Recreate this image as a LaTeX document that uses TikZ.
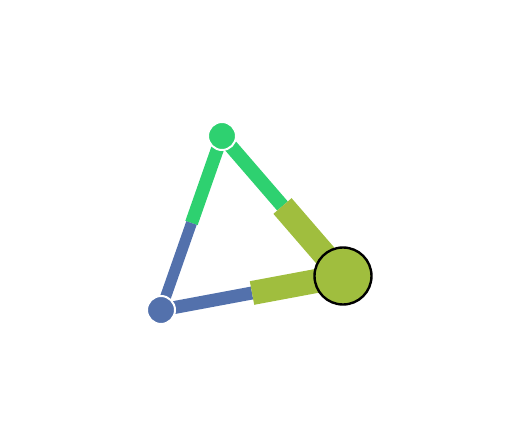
\documentclass[tikz,border=0pt]{standalone}
\usepackage{tikz}
\usetikzlibrary{calc}

\definecolor{nodegreen}{RGB}{46,209,112}
\definecolor{nodeblue}{RGB}{83,113,172}
\definecolor{nodeolive}{RGB}{160,190,62}

\begin{document}
\begin{tikzpicture}[
    x=0.75pt, y=-0.75pt,
    netnode/.style={circle, inner sep=0pt, minimum size=28*0.75pt, draw=white, line width=1.5pt},
    bignode/.style={circle, inner sep=0pt, minimum size=57*0.75pt, draw=black, line width=1.8pt, fill=nodeolive},
    halfedge/.style={line width=#1*0.75pt, line cap=butt}
  ]
    \useasboundingbox (0,0) rectangle (526,439);
    \coordinate (greenpos) at (222,136);
    \coordinate (bluepos) at (161,310);
    \coordinate (olivepos) at (343,276);
    \coordinate (gbmid) at ($(greenpos)!0.5!(bluepos)$);
    \coordinate (gomid) at ($(greenpos)!0.5!(olivepos)$);
    \coordinate (bomid) at ($(bluepos)!0.5!(olivepos)$);
    % edges, one half per end
    \draw[halfedge=13, nodegreen] (greenpos) -- (gbmid);
    \draw[halfedge=11, nodeblue] (bluepos) -- (gbmid);
    \draw[halfedge=14, nodegreen] (greenpos) -- (gomid);
    \draw[halfedge=24, nodeolive] (olivepos) -- (gomid);
    \draw[halfedge=13, nodeblue] (bluepos) -- (bomid);
    \draw[halfedge=24, nodeolive] (olivepos) -- (bomid);
    % nodes
    \node[netnode, fill=nodegreen] (green) at (greenpos) {};
    \node[netnode, fill=nodeblue] (blue) at (bluepos) {};
    \node[bignode] (olive) at (olivepos) {};
  \end{tikzpicture}
\end{document}
